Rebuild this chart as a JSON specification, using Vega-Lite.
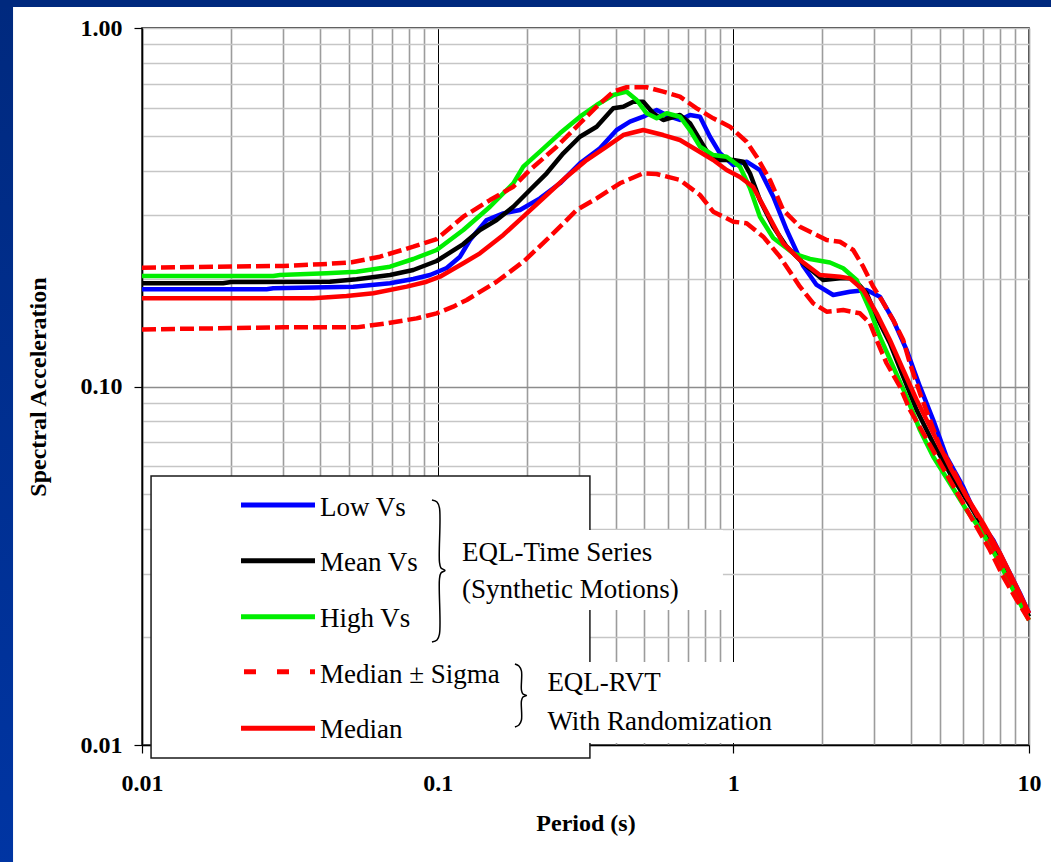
{
"$schema": "https://vega.github.io/schema/vega-lite/v6.json",
"width": 887,
"height": 717,
"autosize": {"type": "none"},
"padding": {"left": 142, "top": 28, "right": 22, "bottom": 117},
"background": "white",
"config": {"view": {"stroke": "black", "strokeWidth": 1.5}, "font": "Liberation Serif"},
"data": {"values": [{}]},
"datasets": {
"curves": [
{"s":"Low Vs","T":0.01,"SA":0.1867},{"s":"Low Vs","T":0.0264,"SA":0.1867},{"s":"Low Vs","T":0.0278,"SA":0.1879},{"s":"Low Vs","T":0.0518,"SA":0.1899},{"s":"Low Vs","T":0.069,"SA":0.194},{"s":"Low Vs","T":0.0827,"SA":0.1995},{"s":"Low Vs","T":0.0942,"SA":0.2046},{"s":"Low Vs","T":0.1073,"SA":0.2141},{"s":"Low Vs","T":0.119,"SA":0.2302},{"s":"Low Vs","T":0.1286,"SA":0.2562},{"s":"Low Vs","T":0.1465,"SA":0.2913},{"s":"Low Vs","T":0.1667,"SA":0.3041},{"s":"Low Vs","T":0.1898,"SA":0.3106},{"s":"Low Vs","T":0.2218,"SA":0.3349},{"s":"Low Vs","T":0.2592,"SA":0.3688},{"s":"Low Vs","T":0.3029,"SA":0.4195},{"s":"Low Vs","T":0.3539,"SA":0.4618},{"s":"Low Vs","T":0.403,"SA":0.5193},{"s":"Low Vs","T":0.4471,"SA":0.5478},{"s":"Low Vs","T":0.4958,"SA":0.5657},{"s":"Low Vs","T":0.5503,"SA":0.5905},{"s":"Low Vs","T":0.6103,"SA":0.5657},{"s":"Low Vs","T":0.6598,"SA":0.5539},{"s":"Low Vs","T":0.7134,"SA":0.5719},{"s":"Low Vs","T":0.7713,"SA":0.5657},{"s":"Low Vs","T":0.8336,"SA":0.4974},{"s":"Low Vs","T":0.901,"SA":0.4472},{"s":"Low Vs","T":1.0,"SA":0.4149},{"s":"Low Vs","T":1.109,"SA":0.4237},{"s":"Low Vs","T":1.23,"SA":0.4016},{"s":"Low Vs","T":1.365,"SA":0.3384},{"s":"Low Vs","T":1.515,"SA":0.2733},{"s":"Low Vs","T":1.724,"SA":0.2169},{"s":"Low Vs","T":1.913,"SA":0.192},{"s":"Low Vs","T":2.177,"SA":0.18},{"s":"Low Vs","T":2.479,"SA":0.1838},{"s":"Low Vs","T":2.823,"SA":0.1859},{"s":"Low Vs","T":3.131,"SA":0.178},{"s":"Low Vs","T":3.474,"SA":0.1532},{"s":"Low Vs","T":3.856,"SA":0.1264},{"s":"Low Vs","T":4.278,"SA":0.0999},{"s":"Low Vs","T":4.744,"SA":0.0806},{"s":"Low Vs","T":5.263,"SA":0.0637},{"s":"Low Vs","T":5.991,"SA":0.0525},{"s":"Low Vs","T":6.651,"SA":0.0433},{"s":"Low Vs","T":7.568,"SA":0.0373},{"s":"Low Vs","T":8.401,"SA":0.0314},{"s":"Low Vs","T":9.316,"SA":0.0265},{"s":"Low Vs","T":10,"SA":0.0233},
{"s":"Mean Vs","T":0.01,"SA":0.194},{"s":"Mean Vs","T":0.0188,"SA":0.194},{"s":"Mean Vs","T":0.02,"SA":0.1956},{"s":"Mean Vs","T":0.0432,"SA":0.196},{"s":"Mean Vs","T":0.0532,"SA":0.1991},{"s":"Mean Vs","T":0.069,"SA":0.2046},{"s":"Mean Vs","T":0.0827,"SA":0.2113},{"s":"Mean Vs","T":0.0992,"SA":0.2239},{"s":"Mean Vs","T":0.1221,"SA":0.2497},{"s":"Mean Vs","T":0.139,"SA":0.2733},{"s":"Mean Vs","T":0.1583,"SA":0.2913},{"s":"Mean Vs","T":0.1802,"SA":0.3173},{"s":"Mean Vs","T":0.2051,"SA":0.3533},{"s":"Mean Vs","T":0.2337,"SA":0.3933},{"s":"Mean Vs","T":0.266,"SA":0.4472},{"s":"Mean Vs","T":0.3029,"SA":0.4974},{"s":"Mean Vs","T":0.3449,"SA":0.5305},{"s":"Mean Vs","T":0.3925,"SA":0.597},{"s":"Mean Vs","T":0.4243,"SA":0.6033},{"s":"Mean Vs","T":0.4587,"SA":0.6228},{"s":"Mean Vs","T":0.4958,"SA":0.6228},{"s":"Mean Vs","T":0.5359,"SA":0.5782},{"s":"Mean Vs","T":0.5793,"SA":0.5539},{"s":"Mean Vs","T":0.6598,"SA":0.5719},{"s":"Mean Vs","T":0.7134,"SA":0.5423},{"s":"Mean Vs","T":0.7713,"SA":0.4871},{"s":"Mean Vs","T":0.8336,"SA":0.4375},{"s":"Mean Vs","T":0.901,"SA":0.4283},{"s":"Mean Vs","T":1.0,"SA":0.4283},{"s":"Mean Vs","T":1.08,"SA":0.4237},{"s":"Mean Vs","T":1.138,"SA":0.3933},{"s":"Mean Vs","T":1.23,"SA":0.3312},{"s":"Mean Vs","T":1.365,"SA":0.2791},{"s":"Mean Vs","T":1.515,"SA":0.2455},{"s":"Mean Vs","T":1.724,"SA":0.2207},{"s":"Mean Vs","T":2.014,"SA":0.1982},{"s":"Mean Vs","T":2.294,"SA":0.2003},{"s":"Mean Vs","T":2.543,"SA":0.2003},{"s":"Mean Vs","T":2.823,"SA":0.182},{"s":"Mean Vs","T":3.052,"SA":0.1565},{"s":"Mean Vs","T":3.385,"SA":0.132},{"s":"Mean Vs","T":3.755,"SA":0.1065},{"s":"Mean Vs","T":4.169,"SA":0.086},{"s":"Mean Vs","T":4.744,"SA":0.0694},{"s":"Mean Vs","T":5.401,"SA":0.0573},{"s":"Mean Vs","T":6.152,"SA":0.0483},{"s":"Mean Vs","T":7.0,"SA":0.0406},{"s":"Mean Vs","T":7.973,"SA":0.0335},{"s":"Mean Vs","T":9.08,"SA":0.0271},{"s":"Mean Vs","T":10,"SA":0.0228},
{"s":"High Vs","T":0.01,"SA":0.2033},{"s":"High Vs","T":0.0278,"SA":0.2033},{"s":"High Vs","T":0.0293,"SA":0.2046},{"s":"High Vs","T":0.0421,"SA":0.2069},{"s":"High Vs","T":0.0532,"SA":0.209},{"s":"High Vs","T":0.069,"SA":0.2159},{"s":"High Vs","T":0.0827,"SA":0.2268},{"s":"High Vs","T":0.0992,"SA":0.2403},{"s":"High Vs","T":0.1221,"SA":0.2733},{"s":"High Vs","T":0.1503,"SA":0.3173},{"s":"High Vs","T":0.1802,"SA":0.3688},{"s":"High Vs","T":0.1948,"SA":0.4103},{"s":"High Vs","T":0.2218,"SA":0.4519},{"s":"High Vs","T":0.2592,"SA":0.5084},{"s":"High Vs","T":0.3029,"SA":0.5657},{"s":"High Vs","T":0.3449,"SA":0.6098},{"s":"High Vs","T":0.3925,"SA":0.6503},{"s":"High Vs","T":0.4357,"SA":0.6644},{"s":"High Vs","T":0.471,"SA":0.6298},{"s":"High Vs","T":0.5091,"SA":0.5782},{"s":"High Vs","T":0.5503,"SA":0.5599},{"s":"High Vs","T":0.5948,"SA":0.5782},{"s":"High Vs","T":0.6598,"SA":0.5657},{"s":"High Vs","T":0.7134,"SA":0.5193},{"s":"High Vs","T":0.7713,"SA":0.4666},{"s":"High Vs","T":0.8551,"SA":0.4422},{"s":"High Vs","T":0.9492,"SA":0.4375},{"s":"High Vs","T":1.053,"SA":0.4103},{"s":"High Vs","T":1.138,"SA":0.3578},{"s":"High Vs","T":1.23,"SA":0.2976},{"s":"High Vs","T":1.365,"SA":0.2596},{"s":"High Vs","T":1.595,"SA":0.2352},{"s":"High Vs","T":1.816,"SA":0.2268},{"s":"High Vs","T":2.122,"SA":0.2218},{"s":"High Vs","T":2.353,"SA":0.2137},{"s":"High Vs","T":2.612,"SA":0.1982},{"s":"High Vs","T":2.897,"SA":0.1634},{"s":"High Vs","T":3.131,"SA":0.1377},{"s":"High Vs","T":3.474,"SA":0.1135},{"s":"High Vs","T":3.856,"SA":0.0936},{"s":"High Vs","T":4.278,"SA":0.0756},{"s":"High Vs","T":4.744,"SA":0.0637},{"s":"High Vs","T":5.401,"SA":0.0537},{"s":"High Vs","T":6.152,"SA":0.0452},{"s":"High Vs","T":7.0,"SA":0.0389},{"s":"High Vs","T":7.973,"SA":0.0321},{"s":"High Vs","T":9.08,"SA":0.0259},{"s":"High Vs","T":10,"SA":0.0223},
{"s":"Median + Sigma","T":0.01,"SA":0.2145},{"s":"Median + Sigma","T":0.03,"SA":0.2169},{"s":"Median + Sigma","T":0.0405,"SA":0.2193},{"s":"Median + Sigma","T":0.0512,"SA":0.2221},{"s":"Median + Sigma","T":0.0638,"SA":0.2302},{"s":"Median + Sigma","T":0.0827,"SA":0.2455},{"s":"Median + Sigma","T":0.0992,"SA":0.2578},{"s":"Median + Sigma","T":0.1221,"SA":0.2976},{"s":"Median + Sigma","T":0.1503,"SA":0.3312},{"s":"Median + Sigma","T":0.1802,"SA":0.3608},{"s":"Median + Sigma","T":0.2051,"SA":0.4016},{"s":"Median + Sigma","T":0.2526,"SA":0.4666},{"s":"Median + Sigma","T":0.3029,"SA":0.5423},{"s":"Median + Sigma","T":0.3449,"SA":0.6033},{"s":"Median + Sigma","T":0.3925,"SA":0.6644},{"s":"Median + Sigma","T":0.4357,"SA":0.6835},{"s":"Median + Sigma","T":0.5091,"SA":0.6835},{"s":"Median + Sigma","T":0.5793,"SA":0.6644},{"s":"Median + Sigma","T":0.6598,"SA":0.6433},{"s":"Median + Sigma","T":0.7516,"SA":0.597},{"s":"Median + Sigma","T":0.8551,"SA":0.5599},{"s":"Median + Sigma","T":0.9739,"SA":0.5305},{"s":"Median + Sigma","T":1.109,"SA":0.4817},{"s":"Median + Sigma","T":1.199,"SA":0.4375},{"s":"Median + Sigma","T":1.33,"SA":0.3767},{"s":"Median + Sigma","T":1.475,"SA":0.3106},{"s":"Median + Sigma","T":1.68,"SA":0.2791},{"s":"Median + Sigma","T":2.068,"SA":0.2562},{"s":"Median + Sigma","T":2.294,"SA":0.2534},{"s":"Median + Sigma","T":2.543,"SA":0.2403},{"s":"Median + Sigma","T":2.75,"SA":0.2159},{"s":"Median + Sigma","T":2.972,"SA":0.1899},{"s":"Median + Sigma","T":3.173,"SA":0.1743},{"s":"Median + Sigma","T":3.474,"SA":0.1532},{"s":"Median + Sigma","T":3.755,"SA":0.1348},{"s":"Median + Sigma","T":3.956,"SA":0.1161},{"s":"Median + Sigma","T":4.278,"SA":0.0957},{"s":"Median + Sigma","T":4.624,"SA":0.0806},{"s":"Median + Sigma","T":4.995,"SA":0.0679},{"s":"Median + Sigma","T":5.542,"SA":0.0585},{"s":"Median + Sigma","T":6.152,"SA":0.0493},{"s":"Median + Sigma","T":6.823,"SA":0.0424},{"s":"Median + Sigma","T":7.568,"SA":0.0357},{"s":"Median + Sigma","T":8.401,"SA":0.0301},{"s":"Median + Sigma","T":9.316,"SA":0.0259},{"s":"Median + Sigma","T":10,"SA":0.0233},
{"s":"Median - Sigma","T":0.01,"SA":0.1443},{"s":"Median - Sigma","T":0.03,"SA":0.1462},{"s":"Median - Sigma","T":0.0532,"SA":0.1462},{"s":"Median - Sigma","T":0.0672,"SA":0.1501},{"s":"Median - Sigma","T":0.0849,"SA":0.1549},{"s":"Median - Sigma","T":0.0992,"SA":0.16},{"s":"Median - Sigma","T":0.1129,"SA":0.167},{"s":"Median - Sigma","T":0.1254,"SA":0.1743},{"s":"Median - Sigma","T":0.1583,"SA":0.196},{"s":"Median - Sigma","T":0.1948,"SA":0.2229},{"s":"Median - Sigma","T":0.2398,"SA":0.2618},{"s":"Median - Sigma","T":0.2952,"SA":0.3106},{"s":"Median - Sigma","T":0.3449,"SA":0.3349},{"s":"Median - Sigma","T":0.4135,"SA":0.3688},{"s":"Median - Sigma","T":0.4958,"SA":0.3933},{"s":"Median - Sigma","T":0.5503,"SA":0.3915},{"s":"Median - Sigma","T":0.6598,"SA":0.3767},{"s":"Median - Sigma","T":0.7713,"SA":0.3421},{"s":"Median - Sigma","T":0.8551,"SA":0.3073},{"s":"Median - Sigma","T":1.0,"SA":0.2883},{"s":"Median - Sigma","T":1.109,"SA":0.2852},{"s":"Median - Sigma","T":1.262,"SA":0.2618},{"s":"Median - Sigma","T":1.437,"SA":0.2302},{"s":"Median - Sigma","T":1.68,"SA":0.1899},{"s":"Median - Sigma","T":1.863,"SA":0.1706},{"s":"Median - Sigma","T":2.068,"SA":0.1617},{"s":"Median - Sigma","T":2.353,"SA":0.1634},{"s":"Median - Sigma","T":2.68,"SA":0.16},{"s":"Median - Sigma","T":2.897,"SA":0.1501},{"s":"Median - Sigma","T":3.052,"SA":0.1348},{"s":"Median - Sigma","T":3.299,"SA":0.1161},{"s":"Median - Sigma","T":3.66,"SA":0.0999},{"s":"Median - Sigma","T":3.956,"SA":0.086},{"s":"Median - Sigma","T":4.389,"SA":0.0741},{"s":"Median - Sigma","T":4.871,"SA":0.0637},{"s":"Median - Sigma","T":5.401,"SA":0.0548},{"s":"Median - Sigma","T":5.991,"SA":0.0472},{"s":"Median - Sigma","T":6.651,"SA":0.0406},{"s":"Median - Sigma","T":7.374,"SA":0.035},{"s":"Median - Sigma","T":8.181,"SA":0.0295},{"s":"Median - Sigma","T":9.08,"SA":0.0254},{"s":"Median - Sigma","T":10,"SA":0.0223},
{"s":"Median","T":0.01,"SA":0.1762},{"s":"Median","T":0.038,"SA":0.1762},{"s":"Median","T":0.0492,"SA":0.1788},{"s":"Median","T":0.0606,"SA":0.182},{"s":"Median","T":0.0786,"SA":0.1899},{"s":"Median","T":0.0918,"SA":0.196},{"s":"Median","T":0.1018,"SA":0.2024},{"s":"Median","T":0.1221,"SA":0.2207},{"s":"Median","T":0.139,"SA":0.2352},{"s":"Median","T":0.1667,"SA":0.2647},{"s":"Median","T":0.1948,"SA":0.2976},{"s":"Median","T":0.2337,"SA":0.3421},{"s":"Median","T":0.2731,"SA":0.3848},{"s":"Median","T":0.3191,"SA":0.4283},{"s":"Median","T":0.3728,"SA":0.4666},{"s":"Median","T":0.4243,"SA":0.5028},{"s":"Median","T":0.4958,"SA":0.5193},{"s":"Median","T":0.5793,"SA":0.5028},{"s":"Median","T":0.6598,"SA":0.4871},{"s":"Median","T":0.7516,"SA":0.4567},{"s":"Median","T":0.8551,"SA":0.4283},{"s":"Median","T":0.9492,"SA":0.4016},{"s":"Median","T":1.053,"SA":0.3841},{"s":"Median","T":1.167,"SA":0.3601},{"s":"Median","T":1.296,"SA":0.3067},{"s":"Median","T":1.475,"SA":0.2508},{"s":"Median","T":1.68,"SA":0.2254},{"s":"Median","T":1.963,"SA":0.2046},{"s":"Median","T":2.294,"SA":0.2024},{"s":"Median","T":2.479,"SA":0.2003},{"s":"Median","T":2.75,"SA":0.1859},{"s":"Median","T":3.052,"SA":0.16},{"s":"Median","T":3.385,"SA":0.1348},{"s":"Median","T":3.755,"SA":0.1112},{"s":"Median","T":4.169,"SA":0.0917},{"s":"Median","T":4.744,"SA":0.0741},{"s":"Median","T":5.401,"SA":0.0597},{"s":"Median","T":6.152,"SA":0.0493},{"s":"Median","T":7.0,"SA":0.0415},{"s":"Median","T":7.973,"SA":0.0343},{"s":"Median","T":9.08,"SA":0.0276},{"s":"Median","T":10,"SA":0.0233}
],
"braces": [
{"b":1,"i":1,"T":0.09566,"SA":0.04826},{"b":1,"i":2,"T":0.09946,"SA":0.04764},{"b":1,"i":3,"T":0.10141,"SA":0.04584},{"b":1,"i":4,"T":0.10141,"SA":0.03239},{"b":1,"i":5,"T":0.1026,"SA":0.03117},{"b":1,"i":6,"T":0.10585,"SA":0.03068},{"b":1,"i":7,"T":0.1026,"SA":0.03019},{"b":1,"i":8,"T":0.10141,"SA":0.02904},{"b":1,"i":9,"T":0.10141,"SA":0.02039},{"b":1,"i":10,"T":0.09946,"SA":0.01963},{"b":1,"i":11,"T":0.09566,"SA":0.01938},
{"b":2,"i":1,"T":0.18253,"SA":0.01683},{"b":2,"i":2,"T":0.18831,"SA":0.01661},{"b":2,"i":3,"T":0.19201,"SA":0.01609},{"b":2,"i":4,"T":0.19201,"SA":0.01423},{"b":2,"i":5,"T":0.19427,"SA":0.01388},{"b":2,"i":6,"T":0.19963,"SA":0.01374},{"b":2,"i":7,"T":0.19427,"SA":0.01361},{"b":2,"i":8,"T":0.19201,"SA":0.01327},{"b":2,"i":9,"T":0.19201,"SA":0.01174},{"b":2,"i":10,"T":0.18831,"SA":0.01137},{"b":2,"i":11,"T":0.18253,"SA":0.01123}
]
},
"layer": [
{
"data": {"name": "curves"},
"transform": [{"filter": "datum.s == 'Low Vs' || datum.s == 'Mean Vs' || datum.s == 'High Vs'"}],
"mark": {"type": "line", "strokeWidth": 4.5, "strokeJoin": "round", "strokeCap": "butt"},
"encoding": {
"x": {"field": "T", "type": "quantitative", "scale": {"type": "log", "domain": [0.01, 10], "nice": false},
"axis": {"title": "Period (s)", "titleFont": "Liberation Serif", "titleFontSize": 24, "titleFontWeight": "bold", "titleColor": "black", "titlePadding": 16,
"values": [0.01,0.02,0.03,0.04,0.05,0.06,0.07,0.08,0.09,0.1,0.2,0.3,0.4,0.5,0.6,0.7,0.8,0.9,1,2,3,4,5,6,7,8,9,10],
"labelExpr": "datum.value == 0.01 ? '0.01' : datum.value == 0.1 ? '0.1' : datum.value == 1 ? '1' : datum.value == 10 ? '10' : ''",
"labelFont": "Liberation Serif", "labelFontSize": 24, "labelFontWeight": "bold", "labelColor": "black", "labelPadding": 18, "labelOverlap": false, "labelFlush": false, "labelBound": false,
"tickSize": 8, "tickColor": "black", "tickWidth": 1.2,
"tickOpacity": {"condition": {"test": "datum.value == 0.01 || datum.value == 0.1 || datum.value == 1 || datum.value == 10", "value": 1}, "value": 0},
"domainColor": "black", "domainWidth": 1.5,
"grid": true,
"gridColor": {"condition": {"test": "datum.value == 0.1 || datum.value == 1", "value": "#000000"}, "value": "#9c9c9c"},
"gridWidth": {"condition": {"test": "datum.value == 0.1 || datum.value == 1", "value": 1}, "value": 1.6}}},
"y": {"field": "SA", "type": "quantitative", "scale": {"type": "log", "domain": [0.01, 1], "nice": false},
"axis": {"title": "Spectral Acceleration", "titleFont": "Liberation Serif", "titleFontSize": 24, "titleFontWeight": "bold", "titleColor": "black", "titlePadding": 30,
"values": [0.01,0.02,0.03,0.04,0.05,0.06,0.07,0.08,0.09,0.1,0.2,0.3,0.4,0.5,0.6,0.7,0.8,0.9,1],
"labelExpr": "datum.value == 0.01 ? '0.01' : datum.value == 0.1 ? '0.10' : datum.value == 1 ? '1.00' : ''",
"labelFont": "Liberation Serif", "labelFontSize": 24, "labelFontWeight": "bold", "labelColor": "black", "labelPadding": 12, "labelOverlap": false, "labelFlush": false, "labelBound": false,
"tickSize": 8, "tickColor": "black", "tickWidth": 1.2,
"tickOpacity": {"condition": {"test": "datum.value == 0.01 || datum.value == 0.1 || datum.value == 1", "value": 1}, "value": 0},
"domainColor": "black", "domainWidth": 1.5,
"grid": true,
"gridColor": {"condition": {"test": "datum.value == 0.1", "value": "#8c8c8c"}, "value": "#c6c6c6"},
"gridWidth": 1.5}},
"color": {"field": "s", "type": "nominal", "legend": null,
"scale": {"domain": ["Low Vs", "Mean Vs", "High Vs", "Median + Sigma", "Median - Sigma", "Median"], "range": ["#0000ff", "#000000", "#00ee00", "#ff0000", "#ff0000", "#ff0000"]}},
"order": {"field": "T"}
}
},
{
"data": {"name": "curves"},
"transform": [{"filter": "datum.s == 'Median + Sigma' || datum.s == 'Median - Sigma'"}],
"mark": {"type": "line", "strokeWidth": 4.5, "strokeJoin": "round", "strokeCap": "butt", "strokeDash": [14, 5]},
"encoding": {
"x": {"field": "T", "type": "quantitative"},
"y": {"field": "SA", "type": "quantitative"},
"color": {"field": "s", "type": "nominal", "legend": null},
"order": {"field": "T"}
}
},
{
"data": {"name": "curves"},
"transform": [{"filter": "datum.s == 'Median'"}],
"mark": {"type": "line", "strokeWidth": 4.5, "strokeJoin": "round", "strokeCap": "butt"},
"encoding": {
"x": {"field": "T", "type": "quantitative"},
"y": {"field": "SA", "type": "quantitative"},
"color": {"field": "s", "type": "nominal", "legend": null},
"order": {"field": "T"}
}
},
{
"mark": {"type": "rect", "fill": "white", "stroke": "#1a1a1a", "strokeWidth": 1.5},
"encoding": {"x": {"datum": 0.01073}, "x2": {"datum": 0.3273}, "y": {"datum": 0.0092}, "y2": {"datum": 0.05627}}
},
{
"mark": {"type": "rect", "fill": "white"},
"encoding": {"x": {"datum": 0.1144}, "x2": {"datum": 0.9222}, "y": {"datum": 0.0238}, "y2": {"datum": 0.03978}}
},
{
"mark": {"type": "rect", "fill": "white"},
"encoding": {"x": {"datum": 0.2218}, "x2": {"datum": 1.68}, "y": {"datum": 0.01013}, "y2": {"datum": 0.01704}}
},
{"mark": {"type": "rule", "color": "#0000ff", "strokeWidth": 5}, "encoding": {"x": {"datum": 0.02162}, "x2": {"datum": 0.03847}, "y": {"datum": 0.04671}}},
{"mark": {"type": "rule", "color": "#000000", "strokeWidth": 5}, "encoding": {"x": {"datum": 0.02162}, "x2": {"datum": 0.03847}, "y": {"datum": 0.03266}}},
{"mark": {"type": "rule", "color": "#00ee00", "strokeWidth": 5}, "encoding": {"x": {"datum": 0.02162}, "x2": {"datum": 0.03847}, "y": {"datum": 0.0228}}},
{"mark": {"type": "rule", "color": "#ff0000", "strokeWidth": 5, "strokeDash": [12, 21]}, "encoding": {"x": {"datum": 0.02213}, "x2": {"datum": 0.03847}, "y": {"datum": 0.01601}}},
{"mark": {"type": "rule", "color": "#ff0000", "strokeWidth": 5}, "encoding": {"x": {"datum": 0.02162}, "x2": {"datum": 0.03847}, "y": {"datum": 0.01113}}},
{"mark": {"type": "text", "text": "Low Vs", "align": "left", "baseline": "middle", "font": "Liberation Serif", "fontSize": 27, "color": "black"}, "encoding": {"x": {"datum": 0.04}, "y": {"datum": 0.04584}}},
{"mark": {"type": "text", "text": "Mean Vs", "align": "left", "baseline": "middle", "font": "Liberation Serif", "fontSize": 27, "color": "black"}, "encoding": {"x": {"datum": 0.04}, "y": {"datum": 0.03219}}},
{"mark": {"type": "text", "text": "High Vs", "align": "left", "baseline": "middle", "font": "Liberation Serif", "fontSize": 27, "color": "black"}, "encoding": {"x": {"datum": 0.04}, "y": {"datum": 0.02246}}},
{"mark": {"type": "text", "text": "Median ± Sigma", "align": "left", "baseline": "middle", "font": "Liberation Serif", "fontSize": 27, "color": "black"}, "encoding": {"x": {"datum": 0.04}, "y": {"datum": 0.01568}}},
{"mark": {"type": "text", "text": "Median", "align": "left", "baseline": "middle", "font": "Liberation Serif", "fontSize": 27, "color": "black"}, "encoding": {"x": {"datum": 0.04}, "y": {"datum": 0.01101}}},
{"mark": {"type": "text", "text": "EQL-Time Series", "align": "left", "baseline": "middle", "font": "Liberation Serif", "fontSize": 27, "color": "black"}, "encoding": {"x": {"datum": 0.1208}, "y": {"datum": 0.03432}}},
{"mark": {"type": "text", "text": "(Synthetic Motions)", "align": "left", "baseline": "middle", "font": "Liberation Serif", "fontSize": 27, "color": "black"}, "encoding": {"x": {"datum": 0.1208}, "y": {"datum": 0.02706}}},
{"mark": {"type": "text", "text": "EQL-RVT", "align": "left", "baseline": "middle", "font": "Liberation Serif", "fontSize": 27, "color": "black"}, "encoding": {"x": {"datum": 0.235}, "y": {"datum": 0.01489}}},
{"mark": {"type": "text", "text": "With Randomization", "align": "left", "baseline": "middle", "font": "Liberation Serif", "fontSize": 27, "color": "black"}, "encoding": {"x": {"datum": 0.235}, "y": {"datum": 0.01159}}},
{
"data": {"name": "braces"},
"mark": {"type": "line", "color": "black", "strokeWidth": 1.5, "interpolate": "catmull-rom"},
"encoding": {"x": {"field": "T", "type": "quantitative"}, "y": {"field": "SA", "type": "quantitative"}, "detail": {"field": "b"}, "order": {"field": "i"}}
},
{
"mark": {"type": "rect", "color": {"gradient": "linear", "x1": 0, "y1": 0, "x2": 0, "y2": 1, "stops": [{"offset": 0, "color": "#00297e"}, {"offset": 1, "color": "#0035a3"}]}},
"encoding": {"x": {"datum": 0.0032}, "x2": {"datum": 0.003663}, "y": {"datum": 0.0045}, "y2": {"datum": 1.25}}
},
{
"mark": {"type": "rect", "color": "#00297e"},
"encoding": {"x": {"datum": 0.0032}, "x2": {"datum": 12}, "y": {"datum": 1.1445}, "y2": {"datum": 1.25}}
}
]
}
